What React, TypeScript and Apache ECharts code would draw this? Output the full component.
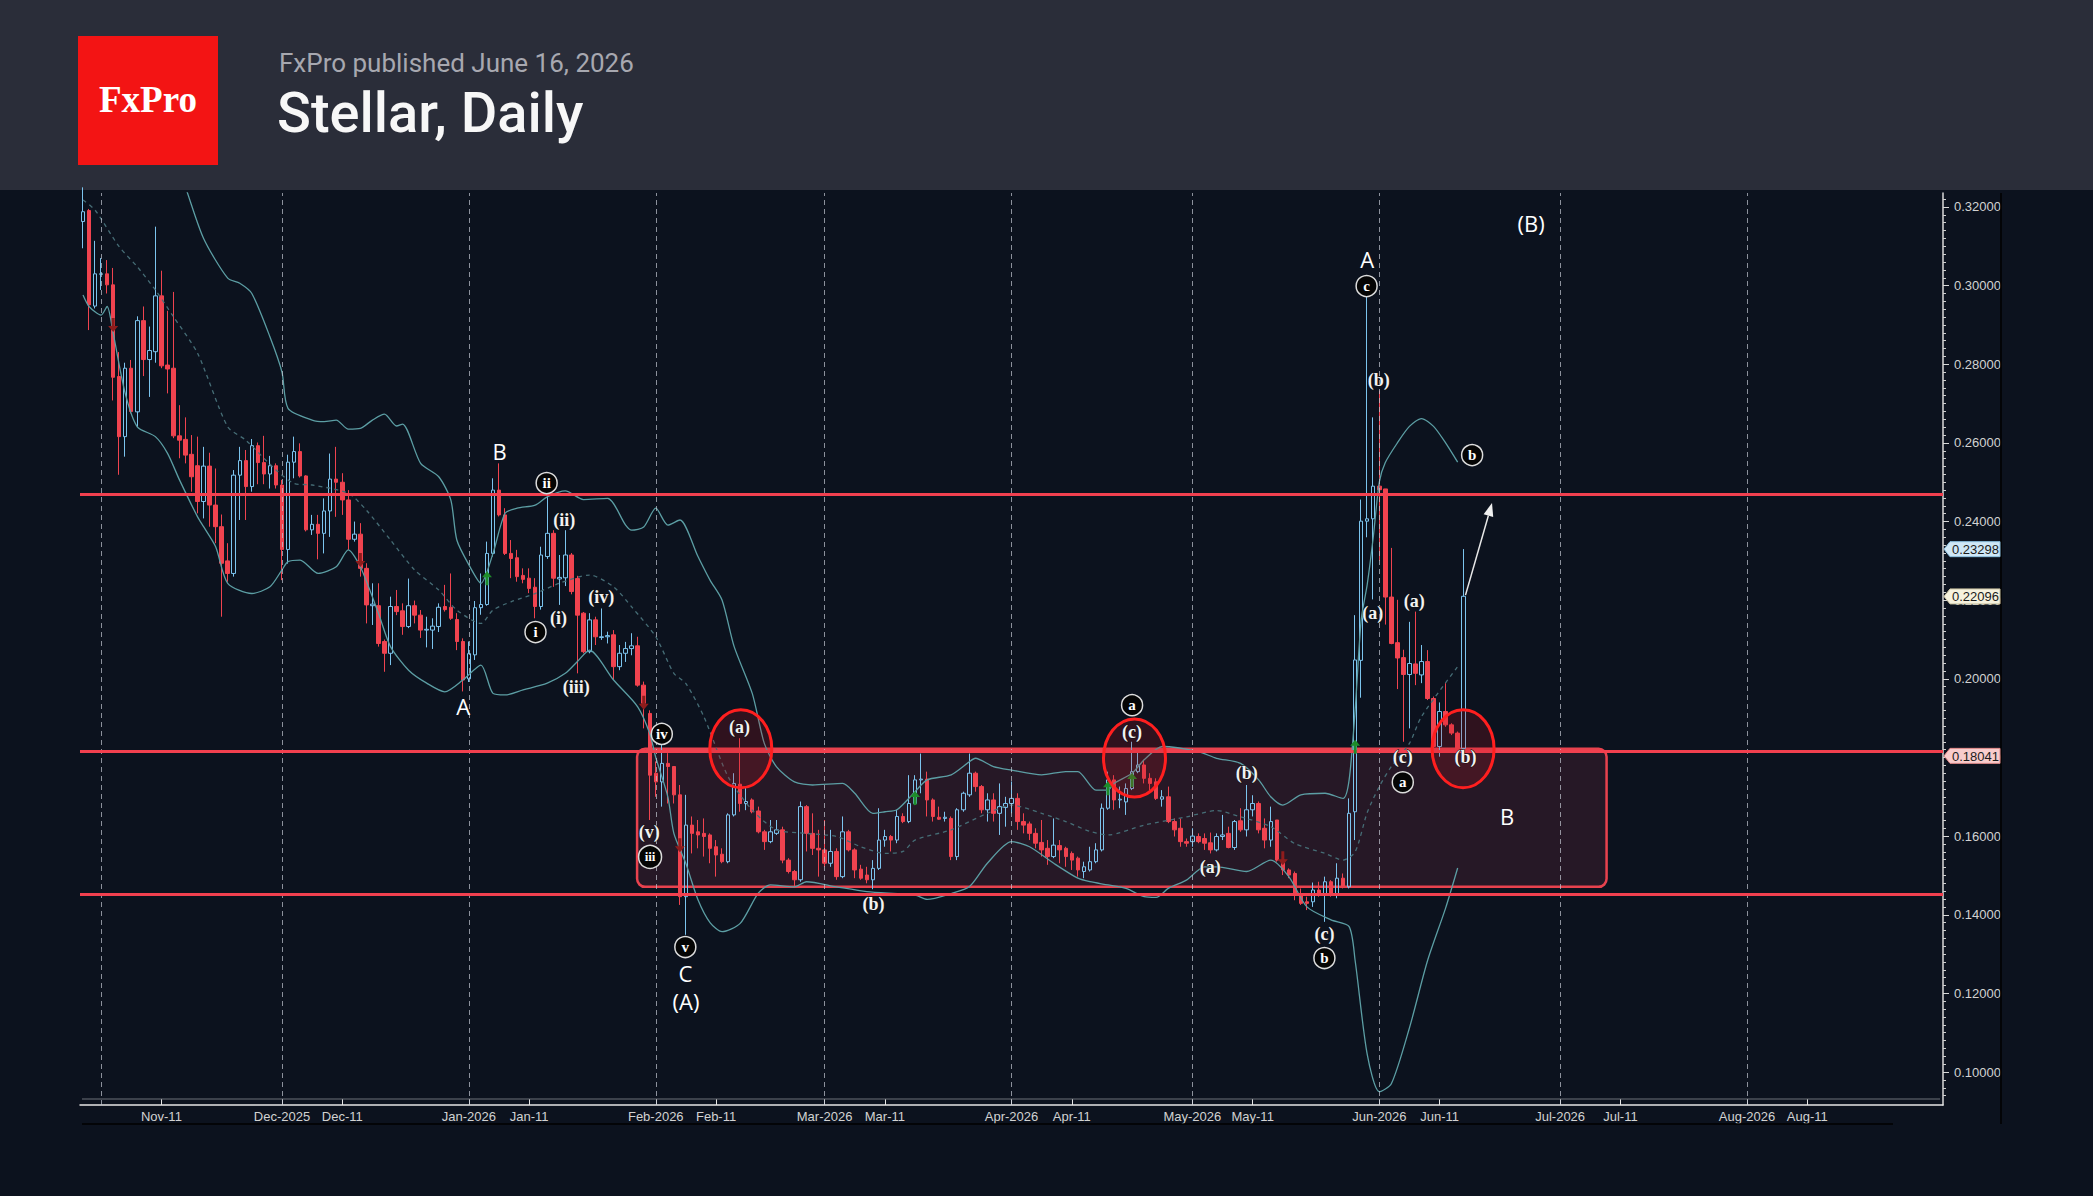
import React, { useEffect, useRef } from "react";
import * as echarts from "echarts";

const WIDTH = 2093;
const HEIGHT = 1196;

// ---------- header texts ----------
const headerSubtitle = "FxPro published June 16, 2026";
const headerTitle = "Stellar, Daily";
const logoLabel = "FxPro";

// ---------- axes ----------
const priceMin = 0.09162;
const priceMax = 0.32356;
const priceTickValues = [0.1, 0.12, 0.14, 0.16, 0.18, 0.2, 0.22, 0.24, 0.26, 0.28, 0.3, 0.32];
const monthAbbr = ["Jan", "Feb", "Mar", "Apr", "May", "Jun", "Jul", "Aug", "Sep", "Oct", "Nov", "Dec"];
const firstDay = "2025-10-29";
const lastDay = "2026-09-02";
const lastLabelDay = "2026-08-31";
const monthLineDates = [
  "2025-11-01", "2025-12-01", "2026-01-01", "2026-02-01", "2026-03-01",
  "2026-04-01", "2026-05-01", "2026-06-01", "2026-07-01", "2026-08-01",
];

// ---------- candles: [day, open, close, low, high] ----------
const oct2025 = [
  [29, 0.3163, 0.3188, 0.3095, 0.325],
  [30, 0.3191, 0.2951, 0.2887, 0.3195],
  [31, 0.2948, 0.303, 0.2942, 0.3114],
];
const nov2025 = [
  [1, 0.3029, 0.303, 0.2989, 0.307],
  [2, 0.303, 0.3002, 0.298, 0.3065],
  [3, 0.3002, 0.2767, 0.2708, 0.3045],
  [4, 0.2769, 0.2616, 0.2519, 0.2831],
  [5, 0.2616, 0.279, 0.2565, 0.2804],
  [6, 0.279, 0.268, 0.2675, 0.2811],
  [7, 0.2679, 0.2911, 0.2641, 0.2922],
  [8, 0.2911, 0.2812, 0.277, 0.2947],
  [9, 0.2812, 0.2835, 0.2717, 0.2896],
  [10, 0.2832, 0.2974, 0.2804, 0.315],
  [11, 0.2974, 0.2796, 0.279, 0.3038],
  [12, 0.2798, 0.2788, 0.2726, 0.2936],
  [13, 0.279, 0.2618, 0.2612, 0.2984],
  [14, 0.2618, 0.2607, 0.2561, 0.2696],
  [15, 0.2609, 0.2569, 0.2548, 0.2665],
  [16, 0.2571, 0.2514, 0.2476, 0.262],
  [17, 0.2542, 0.2451, 0.2421, 0.2616],
  [18, 0.2451, 0.2541, 0.2408, 0.259],
  [19, 0.2541, 0.2442, 0.2387, 0.2575],
  [20, 0.2442, 0.2387, 0.2345, 0.2535],
  [21, 0.2387, 0.2294, 0.2158, 0.2418],
  [22, 0.23, 0.2268, 0.2247, 0.2345],
  [23, 0.2268, 0.2518, 0.226, 0.2531],
  [24, 0.2518, 0.2555, 0.2404, 0.259],
  [25, 0.2555, 0.2489, 0.2404, 0.2582],
  [26, 0.2489, 0.2593, 0.2476, 0.261],
  [27, 0.2593, 0.255, 0.2495, 0.2601],
  [28, 0.255, 0.2521, 0.2495, 0.2618],
  [29, 0.2521, 0.2542, 0.2484, 0.2567],
  [30, 0.2542, 0.2493, 0.2484, 0.2548],
];
const dec2025 = [
  [1, 0.2493, 0.2329, 0.2251, 0.2506],
  [2, 0.2329, 0.2551, 0.2293, 0.257],
  [3, 0.2551, 0.2578, 0.251, 0.2616],
  [4, 0.2578, 0.2516, 0.2512, 0.2599],
  [5, 0.2516, 0.2379, 0.2375, 0.2518],
  [6, 0.2379, 0.2393, 0.2366, 0.2417],
  [7, 0.2393, 0.237, 0.2304, 0.2417],
  [8, 0.237, 0.2427, 0.2319, 0.2459],
  [9, 0.2427, 0.2508, 0.2361, 0.2573],
  [10, 0.2508, 0.25, 0.2412, 0.259],
  [11, 0.25, 0.2455, 0.2417, 0.2523],
  [12, 0.2455, 0.2355, 0.2328, 0.248],
  [13, 0.2355, 0.2368, 0.2349, 0.24],
  [14, 0.2368, 0.2281, 0.226, 0.2396],
  [15, 0.2281, 0.2188, 0.2141, 0.2294],
  [16, 0.2186, 0.219, 0.2137, 0.2243],
  [17, 0.2186, 0.209, 0.2082, 0.2243],
  [18, 0.2095, 0.2065, 0.2018, 0.21],
  [19, 0.2065, 0.2184, 0.2035, 0.2209],
  [20, 0.2184, 0.2171, 0.2162, 0.2226],
  [21, 0.2173, 0.2133, 0.2112, 0.2192],
  [22, 0.2133, 0.2186, 0.2129, 0.2255],
  [23, 0.2186, 0.2162, 0.2141, 0.2199],
  [24, 0.2162, 0.2124, 0.2104, 0.2175],
  [25, 0.2124, 0.2126, 0.208, 0.2158],
  [26, 0.2124, 0.2134, 0.2076, 0.2154],
  [27, 0.2133, 0.2182, 0.2119, 0.2192],
  [28, 0.2184, 0.2176, 0.2171, 0.2239],
  [29, 0.2182, 0.2154, 0.215, 0.2268],
  [30, 0.2151, 0.2095, 0.2073, 0.2167],
  [31, 0.2095, 0.1997, 0.1968, 0.2103],
];
const jan2026 = [
  [1, 0.2, 0.2064, 0.1992, 0.2095],
  [2, 0.2061, 0.2181, 0.2048, 0.2198],
  [3, 0.2181, 0.2189, 0.2163, 0.2268],
  [4, 0.2189, 0.2319, 0.2186, 0.2349],
  [5, 0.2319, 0.248, 0.2311, 0.251],
  [6, 0.248, 0.2417, 0.2413, 0.2548],
  [7, 0.2417, 0.2319, 0.2315, 0.2434],
  [8, 0.2319, 0.2306, 0.2256, 0.2353],
  [9, 0.2308, 0.226, 0.2247, 0.2328],
  [10, 0.2263, 0.2253, 0.2243, 0.2281],
  [11, 0.2256, 0.223, 0.2218, 0.2281],
  [12, 0.2233, 0.2184, 0.2154, 0.2256],
  [13, 0.2184, 0.2315, 0.2176, 0.2336],
  [14, 0.2311, 0.237, 0.2305, 0.2468],
  [15, 0.237, 0.2256, 0.2234, 0.2378],
  [16, 0.2254, 0.2258, 0.2188, 0.2315],
  [17, 0.2257, 0.2315, 0.2236, 0.2378],
  [18, 0.2315, 0.2222, 0.2215, 0.232],
  [19, 0.2255, 0.2162, 0.2014, 0.2262],
  [20, 0.2167, 0.2069, 0.2065, 0.217],
  [21, 0.2069, 0.215, 0.2065, 0.2167],
  [22, 0.215, 0.2107, 0.2086, 0.2158],
  [23, 0.2105, 0.2107, 0.2099, 0.2179],
  [24, 0.2107, 0.211, 0.209, 0.212],
  [25, 0.2112, 0.2031, 0.1997, 0.2124],
  [26, 0.2031, 0.2065, 0.2022, 0.2086],
  [27, 0.2065, 0.2077, 0.2043, 0.2094],
  [28, 0.2077, 0.2084, 0.206, 0.2116],
  [29, 0.2084, 0.1984, 0.198, 0.2107],
  [30, 0.1984, 0.1938, 0.1874, 0.1993],
  [31, 0.1912, 0.1755, 0.1641, 0.192],
];
const feb2026 = [
  [1, 0.176, 0.1738, 0.17, 0.179],
  [2, 0.1738, 0.1785, 0.1675, 0.1832],
  [3, 0.1785, 0.1777, 0.1683, 0.1811],
  [4, 0.1777, 0.1705, 0.1683, 0.1777],
  [5, 0.1705, 0.1446, 0.1425, 0.173],
  [6, 0.1446, 0.1628, 0.1349, 0.1705],
  [7, 0.1628, 0.1607, 0.1556, 0.165],
  [8, 0.1611, 0.1603, 0.1569, 0.1641],
  [9, 0.1607, 0.1599, 0.1548, 0.1645],
  [10, 0.1603, 0.1569, 0.1531, 0.1607],
  [11, 0.1573, 0.1552, 0.1497, 0.159],
  [12, 0.1554, 0.1535, 0.1531, 0.1569],
  [13, 0.1535, 0.1654, 0.1531, 0.1658],
  [14, 0.1654, 0.1734, 0.165, 0.176],
  [15, 0.1732, 0.1683, 0.1662, 0.1849],
  [16, 0.1683, 0.1688, 0.1666, 0.1722],
  [17, 0.1692, 0.1662, 0.1658, 0.1696],
  [18, 0.1664, 0.1611, 0.1607, 0.1675],
  [19, 0.1611, 0.1586, 0.1565, 0.1616],
  [20, 0.1586, 0.1611, 0.1582, 0.1641],
  [21, 0.1607, 0.1616, 0.1603, 0.1641],
  [22, 0.1616, 0.1539, 0.1531, 0.1624],
  [23, 0.1539, 0.151, 0.1505, 0.1544],
  [24, 0.151, 0.1489, 0.1472, 0.1514],
  [25, 0.1489, 0.1675, 0.1484, 0.1688],
  [26, 0.1675, 0.1607, 0.1561, 0.1679],
  [27, 0.1607, 0.1569, 0.1552, 0.1658],
  [28, 0.1569, 0.1565, 0.1497, 0.1616],
];
const mar2026 = [
  [1, 0.1565, 0.1531, 0.1522, 0.1641],
  [2, 0.1531, 0.1561, 0.1522, 0.1616],
  [3, 0.1561, 0.1497, 0.1489, 0.1569],
  [4, 0.1497, 0.1611, 0.1493, 0.165],
  [5, 0.1611, 0.1565, 0.1561, 0.1616],
  [6, 0.1565, 0.1514, 0.1493, 0.1569],
  [7, 0.1516, 0.1493, 0.1489, 0.1527],
  [8, 0.1501, 0.1489, 0.148, 0.1522],
  [9, 0.1489, 0.1518, 0.1465, 0.1539],
  [10, 0.1518, 0.159, 0.1514, 0.1671],
  [11, 0.159, 0.1599, 0.1573, 0.1616],
  [12, 0.1599, 0.159, 0.1561, 0.1603],
  [13, 0.159, 0.165, 0.1582, 0.1667],
  [14, 0.165, 0.1637, 0.1633, 0.1658],
  [15, 0.1637, 0.1683, 0.1633, 0.1755],
  [16, 0.1683, 0.1743, 0.1679, 0.1755],
  [17, 0.1743, 0.1745, 0.1709, 0.181],
  [18, 0.1745, 0.1692, 0.165, 0.1764],
  [19, 0.1692, 0.165, 0.1637, 0.1696],
  [20, 0.1648, 0.1643, 0.1641, 0.1675],
  [21, 0.1645, 0.1648, 0.1637, 0.1662],
  [22, 0.1645, 0.1548, 0.1539, 0.165],
  [23, 0.1548, 0.1667, 0.1539, 0.1671],
  [24, 0.1667, 0.1709, 0.1662, 0.1713],
  [25, 0.1705, 0.176, 0.17, 0.181],
  [26, 0.176, 0.1726, 0.1713, 0.1764],
  [27, 0.1726, 0.1667, 0.1658, 0.173],
  [28, 0.1667, 0.1692, 0.1637, 0.1709],
  [29, 0.1692, 0.1658, 0.1637, 0.1709],
  [30, 0.1658, 0.1675, 0.1603, 0.1734],
  [31, 0.1673, 0.1683, 0.1624, 0.17],
];
const apr2026 = [
  [1, 0.1683, 0.1696, 0.1658, 0.1739],
  [2, 0.1696, 0.1637, 0.1616, 0.1709],
  [3, 0.1637, 0.1628, 0.1607, 0.1658],
  [4, 0.1631, 0.1607, 0.159, 0.1637],
  [5, 0.1607, 0.1582, 0.1569, 0.162],
  [6, 0.1584, 0.1565, 0.1548, 0.1641],
  [7, 0.1569, 0.1548, 0.1527, 0.159],
  [8, 0.1548, 0.1577, 0.1544, 0.1645],
  [9, 0.1576, 0.1565, 0.1531, 0.159],
  [10, 0.1569, 0.1548, 0.1522, 0.1573],
  [11, 0.1556, 0.1539, 0.1514, 0.1561],
  [12, 0.1544, 0.1514, 0.1497, 0.1548],
  [13, 0.151, 0.1522, 0.1493, 0.1535],
  [14, 0.1514, 0.1535, 0.151, 0.1573],
  [15, 0.1535, 0.1565, 0.1531, 0.1582],
  [16, 0.1565, 0.1671, 0.1561, 0.1683],
  [17, 0.1671, 0.1743, 0.1667, 0.1764],
  [18, 0.1743, 0.1692, 0.1667, 0.1755],
  [19, 0.1692, 0.1694, 0.1671, 0.1726],
  [20, 0.1687, 0.1721, 0.1654, 0.1734],
  [21, 0.1721, 0.1764, 0.1717, 0.184],
  [22, 0.1764, 0.1781, 0.176, 0.1815],
  [23, 0.1781, 0.1747, 0.1734, 0.1794],
  [24, 0.1747, 0.1734, 0.1717, 0.176],
  [25, 0.1738, 0.1696, 0.1692, 0.1747],
  [26, 0.1694, 0.17, 0.1675, 0.1717],
  [27, 0.17, 0.1637, 0.1633, 0.1726],
  [28, 0.1637, 0.1616, 0.1599, 0.1645],
  [29, 0.162, 0.1586, 0.1573, 0.1645],
  [30, 0.1586, 0.1582, 0.1573, 0.1594],
];
const may2026 = [
  [1, 0.1586, 0.16, 0.1573, 0.162],
  [2, 0.1599, 0.1586, 0.1582, 0.1607],
  [3, 0.1594, 0.1582, 0.1565, 0.1607],
  [4, 0.1583, 0.1565, 0.1556, 0.1609],
  [5, 0.1565, 0.1599, 0.1561, 0.1607],
  [6, 0.1599, 0.1603, 0.159, 0.1654],
  [7, 0.1607, 0.1571, 0.1569, 0.1624],
  [8, 0.1571, 0.1637, 0.1565, 0.1641],
  [9, 0.1639, 0.1616, 0.1611, 0.1671],
  [10, 0.1616, 0.1667, 0.1599, 0.173],
  [11, 0.1667, 0.1683, 0.165, 0.1704],
  [12, 0.1683, 0.1616, 0.1607, 0.1688],
  [13, 0.162, 0.159, 0.1569, 0.1645],
  [14, 0.159, 0.1637, 0.1573, 0.1675],
  [15, 0.1641, 0.1539, 0.1535, 0.1641],
  [16, 0.1539, 0.1514, 0.1501, 0.1548],
  [17, 0.1514, 0.1501, 0.1493, 0.1518],
  [18, 0.1505, 0.1454, 0.1437, 0.151],
  [19, 0.1454, 0.1429, 0.1425, 0.1467],
  [20, 0.1433, 0.1429, 0.1412, 0.1446],
  [21, 0.1433, 0.1463, 0.142, 0.1482],
  [22, 0.1463, 0.145, 0.1446, 0.1484],
  [23, 0.145, 0.1484, 0.1382, 0.1497],
  [24, 0.1484, 0.1454, 0.1446, 0.1488],
  [25, 0.1454, 0.1493, 0.1442, 0.1531],
  [26, 0.1493, 0.1471, 0.1467, 0.1505],
  [27, 0.1471, 0.1658, 0.1467, 0.1696],
  [28, 0.1662, 0.2048, 0.159, 0.2162],
  [29, 0.2047, 0.2401, 0.1952, 0.2456],
  [30, 0.2401, 0.2407, 0.236, 0.2975],
  [31, 0.2407, 0.249, 0.2202, 0.2665],
];
const jun2026 = [
  [1, 0.249, 0.2481, 0.23, 0.2733],
  [2, 0.2483, 0.2208, 0.2138, 0.2483],
  [3, 0.2208, 0.209, 0.2088, 0.2333],
  [4, 0.2092, 0.2053, 0.1974, 0.2201],
  [5, 0.2054, 0.2011, 0.184, 0.2074],
  [6, 0.2011, 0.2039, 0.1874, 0.2145],
  [7, 0.2038, 0.2014, 0.1984, 0.2171],
  [8, 0.201, 0.2044, 0.1989, 0.2086],
  [9, 0.2044, 0.195, 0.1946, 0.2073],
  [10, 0.195, 0.1828, 0.1823, 0.1955],
  [11, 0.1828, 0.1917, 0.1802, 0.194],
  [12, 0.1917, 0.1883, 0.1878, 0.1989],
  [13, 0.1883, 0.1862, 0.1857, 0.1887],
  [14, 0.1862, 0.1823, 0.1819, 0.1866],
  [15, 0.1823, 0.221, 0.1815, 0.233],
];
const candleMonths: [string, number[][]][] = [
  ["2025-10", oct2025], ["2025-11", nov2025], ["2025-12", dec2025], ["2026-01", jan2026],
  ["2026-02", feb2026], ["2026-03", mar2026], ["2026-04", apr2026], ["2026-05", may2026], ["2026-06", jun2026],
];

// ---------- Bollinger bands: [days after 2025-12-01, value] ----------
const bandAnchor = "2025-12-01";
const upperBand = [
  [-22, 0.35], [-16, 0.325], [-13, 0.312], [-9, 0.3019], [-7, 0.3006], [-5, 0.298], [-2, 0.287], [0, 0.278],
  [1, 0.2688], [5, 0.2658], [7, 0.2654], [9, 0.2658], [11, 0.2635], [13, 0.2637], [15, 0.2658], [17, 0.2673],
  [19, 0.2643], [20, 0.2648], [23, 0.2548], [26, 0.2514], [28, 0.2455], [29, 0.2353], [31, 0.229], [33, 0.2243],
  [35, 0.2319], [37, 0.2421], [39, 0.2434], [42, 0.2442], [44, 0.2463], [47, 0.2478], [50, 0.2456], [54, 0.2459],
  [57, 0.2391], [58, 0.2378], [60, 0.2386], [62, 0.2434], [64, 0.2391], [66, 0.2404], [69, 0.2311], [71, 0.2251],
  [73, 0.22], [75, 0.2082], [78, 0.1963], [80, 0.1836], [82, 0.1777], [85, 0.1738], [88, 0.173], [93, 0.1734],
  [95, 0.1709], [98, 0.1658], [100, 0.1662], [102, 0.1667], [105, 0.1713], [107, 0.1743], [111, 0.1756],
  [114, 0.1789], [115, 0.1798], [118, 0.1777], [121, 0.1768], [126, 0.1756], [130, 0.1764], [132, 0.1764],
  [135, 0.1717], [137, 0.1717], [138, 0.1734], [141, 0.176], [143, 0.1794], [146, 0.1828], [152, 0.1815],
  [155, 0.1798], [159, 0.1785], [162, 0.1743], [164, 0.17], [166, 0.1679], [169, 0.1705], [173, 0.1709],
  [176, 0.1696], [177, 0.1743], [178, 0.1921], [179, 0.215], [180, 0.224], [181, 0.236], [182, 0.25],
  [183, 0.255], [185, 0.26], [187, 0.2642], [189, 0.2662], [191, 0.2642], [193, 0.26], [195, 0.2551],
];
const middleBand = [
  [-33, 0.3218], [-31, 0.3192], [-27, 0.3099], [-24, 0.3048], [-21, 0.2989], [-18, 0.2921], [-14, 0.2828],
  [-9, 0.2641], [-6, 0.2607], [-1, 0.2531], [2, 0.2497], [5, 0.2493], [11, 0.2472], [14, 0.2429], [18, 0.2353],
  [22, 0.2277], [26, 0.2226], [29, 0.2175], [33, 0.2141], [35, 0.2175], [38, 0.2196], [42, 0.2217], [46, 0.2243],
  [51, 0.2264], [55, 0.2234], [58, 0.2183], [62, 0.2107], [65, 0.2014], [67, 0.1988], [70, 0.1903], [74, 0.1751],
  [78, 0.1666], [82, 0.1616], [87, 0.1607], [92, 0.1599], [96, 0.1573], [100, 0.1556], [103, 0.1561],
  [105, 0.159], [111, 0.1616], [117, 0.1658], [121, 0.1679], [126, 0.1658], [130, 0.1637], [134, 0.1612],
  [137, 0.1603], [143, 0.1628], [150, 0.1649], [155, 0.1665], [159, 0.1649], [164, 0.1624], [168, 0.1581],
  [173, 0.1556], [176, 0.1539], [178, 0.156], [180, 0.166], [182, 0.1726], [184, 0.1777], [187, 0.1836],
  [189, 0.1904], [195, 0.2031],
];
const lowerBand = [
  [-33, 0.2976], [-32, 0.2947], [-30, 0.2925], [-29, 0.2947], [-28, 0.2879], [-26, 0.2726], [-24, 0.2641],
  [-21, 0.2616], [-19, 0.2574], [-17, 0.2506], [-14, 0.2412], [-13, 0.2387], [-11, 0.2336], [-9, 0.2243],
  [-5, 0.2217], [-2, 0.2234], [0, 0.2277], [1, 0.2298], [3, 0.2302], [6, 0.2268], [9, 0.2285], [11, 0.2328],
  [13, 0.2285], [16, 0.2167], [18, 0.2082], [21, 0.2022], [24, 0.1989], [27, 0.1967], [30, 0.1997], [33, 0.2035],
  [35, 0.1963], [37, 0.1959], [40, 0.1972], [44, 0.1989], [47, 0.2014], [49, 0.2044], [51, 0.2073], [55, 0.1997],
  [59, 0.1929], [61, 0.1861], [62, 0.18], [64, 0.17], [65, 0.1607], [67, 0.153], [69, 0.1438], [71, 0.138],
  [73, 0.1357], [76, 0.1378], [79, 0.1455], [81, 0.1476], [85, 0.1471], [87, 0.1484], [92, 0.1471], [97, 0.1459],
  [105, 0.145], [107, 0.1439], [111, 0.1454], [114, 0.1471], [117, 0.1531], [121, 0.1586], [124, 0.1573],
  [128, 0.1531], [132, 0.1493], [134, 0.1484], [137, 0.1476], [140, 0.1467], [143, 0.1446], [145, 0.1444],
  [147, 0.1467], [150, 0.1488], [153, 0.1522], [155, 0.1522], [160, 0.151], [164, 0.1539], [167, 0.1497],
  [170, 0.142], [174, 0.1387], [177, 0.137], [178, 0.1283], [180, 0.1045], [182, 0.095], [184, 0.097],
  [187, 0.1112], [190, 0.1283], [193, 0.1417], [195, 0.1519],
];

// ---------- drawn levels & annotations (x in days after 2025-12-01) ----------
const levelPrices = [0.247, 0.18147, 0.1453];
const rangeBox = { fromDay: 58.9, toDay: 219.7, low: 0.1471, high: 0.1822 };
const waveLetters: [string, number, number][] = [
  ["A", 30.06, 0.1931], ["B", 36.1, 0.2579], ["C", 66.9, 0.1252], ["(A)", 67.0, 0.1181],
  ["A", 180.0, 0.3067], ["(B)", 207.2, 0.316], ["B", 203.2, 0.1651],
];
const parenLabels: [string, number, number][] = [
  ["(ii)", 46.8, 0.2404], ["(i)", 45.85, 0.2155], ["(iii)", 48.8, 0.1979], ["(iv)", 52.96, 0.2208],
  ["(a)", 75.9, 0.1878], ["(v)", 60.9, 0.161], ["(b)", 98.1, 0.1427], ["(c)", 141.0, 0.1866],
  ["(b)", 160.0, 0.176], ["(a)", 153.95, 0.1521], ["(c)", 172.9, 0.1351], ["(a)", 180.9, 0.2167],
  ["(a)", 187.8, 0.2198], ["(c)", 185.9, 0.1801], ["(b)", 196.3, 0.1801], ["(b)", 181.9, 0.276],
];
const circledLabels: [string, number, number][] = [
  ["ii", 43.9, 0.2498], ["i", 42.05, 0.2119], ["iv", 63.0, 0.186], ["iii", 61.05, 0.1547], ["v", 66.9, 0.1318],
  ["a", 141.0, 0.1933], ["b", 172.9, 0.129], ["a", 185.9, 0.1737], ["c", 179.9, 0.2999], ["b", 197.4, 0.2569],
];
const redCircles: [number, number][] = [[76.1, 0.1822], [141.4, 0.1799], [195.9, 0.1822]];
const projectionArrow: [number, number][] = [[196.3, 0.2213], [200.7, 0.2447]];
const upSignals: [number, number][] = [[34, 0.2256], [105, 0.1697], [137, 0.1722], [141, 0.1743], [178, 0.1827]];
const downSignals: [number, number][] = [[-28, 0.29], [13, 0.2302], [60, 0.1939], [66, 0.1577], [166, 0.1544]];
const priceTags: [string, number, string, string][] = [
  ["0.23298", 0.23298, "#cfe7f6", "#8cc0e0"],
  ["0.22096", 0.22096, "#f6f2de", "#c9c1a0"],
  ["0.18041", 0.18041, "#f8cccc", "#e28a8a"],
];

// ---------- helpers ----------
function buildCategories(): string[] {
  const out: string[] = [];
  const [y0, m0, d0] = firstDay.split("-").map(Number);
  const [y1, m1, d1] = lastDay.split("-").map(Number);
  const end = Date.UTC(y1, m1 - 1, d1);
  for (let t = Date.UTC(y0, m0 - 1, d0); t <= end; t += 86400000) {
    out.push(new Date(t).toISOString().slice(0, 10));
  }
  return out;
}

const BG = "#0c121e";
const SERIF = "'Liberation Serif', 'DejaVu Serif', serif";
const AXISFONT = "'Liberation Sans', Arial, sans-serif";

export default function App() {
  const ref = useRef<HTMLDivElement>(null);

  useEffect(() => {
    document.body.style.margin = "0";
    const el = ref.current;
    if (!el) return;
    const chart = echarts.init(el, null, { renderer: "svg", width: WIDTH, height: HEIGHT });

    const cats = buildCategories();
    const anchor = cats.indexOf(bandAnchor);
    const catIndex: Record<string, number> = {};
    cats.forEach((c, i) => (catIndex[c] = i));

    const candleData: any[] = [];
    candleMonths.forEach(([ym, rows]) => {
      rows.forEach(([day, o, c, l, h]) => {
        const key = `${ym}-${String(day).padStart(2, "0")}`;
        candleData[catIndex[key]] = [o, c, l, h];
      });
    });
    for (let i = 0; i < candleData.length; i++) if (!candleData[i]) candleData[i] = "-";

    const bandSeries = (pts: number[][]) => {
      const arr: any[] = new Array(cats.length).fill(null);
      pts.forEach(([d, v]) => {
        const i = d + anchor;
        if (i >= 0 && i < cats.length) arr[i] = v;
      });
      return arr;
    };

    const labelShown = cats.map((c, i) => {
      const day = Number(c.slice(8, 10));
      return (day === 1 || day === 11) && i > 6 && c <= lastLabelDay;
    });
    const labelText = (c: string) => {
      const y = c.slice(0, 4);
      const m = monthAbbr[Number(c.slice(5, 7)) - 1];
      const day = Number(c.slice(8, 10));
      return day === 1 ? `${m}-${y}` : `${m}-${String(day)}`;
    };

    const minorTicks: number[] = [];
    for (let k = 47; k <= 161; k++) {
      const v = Math.round(k * 0.002 * 100000) / 100000;
      if (!priceTickValues.some((t) => Math.abs(t - v) < 1e-6)) minorTicks.push(v);
    }

    const option: any = {
      animation: false,
      backgroundColor: BG,
      grid: { left: 80, right: 150, top: 193, bottom: 91, containLabel: false },
      xAxis: {
        type: "category",
        data: cats,
        boundaryGap: true,
        axisLine: { show: true, lineStyle: { color: "#e6e6e6", width: 1.5 } },
        axisTick: {
          show: true,
          inside: true,
          alignWithLabel: true,
          length: 6,
          interval: (i: number) => labelShown[i],
          lineStyle: { color: "#e6e6e6" },
        },
        axisLabel: {
          interval: (i: number) => labelShown[i],
          formatter: (v: string) => labelText(v),
          color: "#d2d2d2",
          fontFamily: AXISFONT,
          fontSize: 13,
          margin: 5,
        },
        splitLine: { show: false },
      },
      yAxis: [
        {
          type: "value",
          position: "right",
          min: priceMin,
          max: priceMax,
          axisLine: { show: true, lineStyle: { color: "#d8d8d8", width: 1.5 } },
          axisTick: { show: true, customValues: priceTickValues, length: 6, lineStyle: { color: "#d8d8d8" } },
          axisLabel: {
            customValues: priceTickValues,
            formatter: (v: number) => v.toFixed(5),
            color: "#d2d2d2",
            fontFamily: AXISFONT,
            fontSize: 13,
            margin: 11,
          },
          splitLine: { show: false },
        },
        {
          type: "value",
          position: "right",
          min: priceMin,
          max: priceMax,
          axisLine: { show: false },
          axisTick: { show: true, customValues: minorTicks, length: 3, lineStyle: { color: "#cfcfcf" } },
          axisLabel: { show: false },
          splitLine: { show: false },
        },
      ],
      series: [
        {
          type: "line",
          name: "months",
          data: [],
          z: 1,
          silent: true,
          markLine: {
            silent: true,
            symbol: ["none", "none"],
            label: { show: false },
            lineStyle: { type: [5, 4], color: "rgba(195,200,210,0.7)", width: 1 },
            data: monthLineDates.map((d) => ({ xAxis: d })),
          },
        },
        {
          type: "candlestick",
          name: "XLM",
          data: candleData,
          z: 3,
          barWidth: 4,
          itemStyle: {
            color: "rgba(0,0,0,0)",
            color0: "#f0434f",
            borderColor: "#7cc4ee",
            borderColor0: "#f0434f",
            borderWidth: 1,
          },
        },
        {
          type: "line",
          name: "upper",
          data: bandSeries(upperBand),
          connectNulls: true,
          showSymbol: false,
          smooth: 0.25,
          z: 4,
          silent: true,
          lineStyle: { color: "#5c9ea4", width: 1.3 },
        },
        {
          type: "line",
          name: "middle",
          data: bandSeries(middleBand),
          connectNulls: true,
          showSymbol: false,
          smooth: 0.25,
          z: 4,
          silent: true,
          lineStyle: { color: "#466d76", width: 1.3, type: [4, 4] },
        },
        {
          type: "line",
          name: "lower",
          data: bandSeries(lowerBand),
          connectNulls: true,
          showSymbol: false,
          smooth: 0.25,
          z: 4,
          silent: true,
          lineStyle: { color: "#5c9ea4", width: 1.3 },
        },
        {
          type: "line",
          name: "levels",
          data: [],
          z: 6,
          silent: true,
          markLine: {
            silent: true,
            precision: 6,
            symbol: ["none", "none"],
            label: { show: false },
            lineStyle: { type: "solid", color: "#f2404f", width: 3 },
            data: levelPrices.map((p) => ({ yAxis: p })),
          },
        },
      ],
    };

    chart.setOption(option);

    const xa = chart.convertToPixel({ xAxisIndex: 0 }, cats[0]) as number;
    const xb = chart.convertToPixel({ xAxisIndex: 0 }, cats[cats.length - 1]) as number;
    const band = (xb - xa) / (cats.length - 1);
    const px = (d: number) => xa + (d + anchor) * band;
    const py = (p: number) => chart.convertToPixel({ yAxisIndex: 0 }, p) as number;

    const txt = (text: string, x: number, y: number, s: any, z = 20) => ({
      type: "text",
      x,
      y,
      z,
      silent: true,
      style: {
        text,
        fill: s.fill || "#ffffff",
        fontSize: s.fontSize || 16,
        fontFamily: s.fontFamily || "Open Sans",
        fontWeight: s.fontWeight || "normal",
        align: s.align || "center",
        verticalAlign: "middle",
        textAlign: s.align || "center",
        textVerticalAlign: "middle",
        stroke: s.stroke,
        lineWidth: s.lineWidth,
      },
    });

    const els: any[] = [];
    // header
    els.push({ type: "rect", z: 0, silent: true, shape: { x: 0, y: 0, width: WIDTH, height: 190 }, style: { fill: "#2a2d39" } });
    els.push({ type: "rect", z: 1, silent: true, shape: { x: 78, y: 36, width: 140, height: 129 }, style: { fill: "#f31414" } });
    els.push(txt(logoLabel, 148, 99, { fontSize: 37, fontFamily: SERIF, fontWeight: "bold" }, 2));
    els.push(txt(headerSubtitle, 279, 63, { fontSize: 26, fontFamily: "Roboto", fill: "#a7a8b0", align: "left" }, 2));
    els.push(txt(headerTitle, 277, 113, { fontSize: 56, fontFamily: "Roboto", fontWeight: 500, fill: "#f7f7f7", align: "left" }, 2));

    // frame lines
    els.push({ type: "line", z: 2, silent: true, shape: { x1: 82, y1: 1099, x2: 1940, y2: 1099 }, style: { stroke: "#6c7079", lineWidth: 1 } });
    els.push({ type: "line", z: 2, silent: true, shape: { x1: 2001, y1: 193, x2: 2001, y2: 1124 }, style: { stroke: "#000000", lineWidth: 1.5 } });
    els.push({ type: "line", z: 2, silent: true, shape: { x1: 82, y1: 1124, x2: 1893, y2: 1124 }, style: { stroke: "#000000", lineWidth: 1.5 } });

    // range box
    const bx0 = px(rangeBox.fromDay);
    const bx1 = px(rangeBox.toDay);
    const by0 = py(rangeBox.high);
    const by1 = py(rangeBox.low);
    els.push({
      type: "rect",
      z: 1,
      silent: true,
      shape: { x: bx0, y: by0, width: bx1 - bx0, height: by1 - by0, r: 8 },
      style: { fill: "rgba(100,40,60,0.3)", stroke: "#e8424e", lineWidth: 2.5 },
    });

    // red circles
    redCircles.forEach(([d, p]) => {
      els.push({
        type: "ellipse",
        z: 15,
        silent: true,
        shape: { cx: px(d), cy: py(p), rx: 31, ry: 39 },
        style: { fill: "rgba(190,20,30,0.2)", stroke: "#ff1f1f", lineWidth: 3 },
      });
    });

    // signal arrows
    upSignals.forEach(([d, p]) => {
      const x = px(d), y = py(p);
      els.push({
        type: "polygon", z: 12, silent: true,
        shape: { points: [[x, y - 7], [x + 5, y - 1], [x + 1.5, y - 1], [x + 1.5, y + 7], [x - 1.5, y + 7], [x - 1.5, y - 1], [x - 5, y - 1]] },
        style: { fill: "#1e8c2a" },
      });
    });
    downSignals.forEach(([d, p]) => {
      const x = px(d), y = py(p);
      els.push({
        type: "polygon", z: 12, silent: true,
        shape: { points: [[x, y + 7], [x + 5, y + 1], [x + 1.5, y + 1], [x + 1.5, y - 7], [x - 1.5, y - 7], [x - 1.5, y + 1], [x - 5, y + 1]] },
        style: { fill: "#8e1c1c" },
      });
    });

    // projection arrow
    const [a0, a1] = projectionArrow;
    const ax0 = px(a0[0]), ay0 = py(a0[1]), ax1 = px(a1[0]), ay1 = py(a1[1]);
    const ang = Math.atan2(ay1 - ay0, ax1 - ax0);
    const hl = 13, hw = 5;
    const bxh = ax1 - hl * Math.cos(ang), byh = ay1 - hl * Math.sin(ang);
    els.push({ type: "line", z: 16, silent: true, shape: { x1: ax0, y1: ay0, x2: bxh, y2: byh }, style: { stroke: "#e8e8e8", lineWidth: 1.5 } });
    els.push({
      type: "polygon", z: 16, silent: true,
      shape: {
        points: [
          [ax1, ay1],
          [bxh + hw * Math.sin(ang), byh - hw * Math.cos(ang)],
          [bxh - hw * Math.sin(ang), byh + hw * Math.cos(ang)],
        ],
      },
      style: { fill: "#f0f0f0" },
    });

    waveLetters.forEach(([t, d, p]) => els.push(txt(t, px(d), py(p), { fontSize: 22, fontFamily: "'Open Sans', 'DejaVu Sans', sans-serif" })));
    parenLabels.forEach(([t, d, p]) =>
      els.push(txt(t, px(d), py(p), { fontSize: 18, fontFamily: SERIF, fontWeight: "bold", fill: "#f2f2f2", stroke: "#111", lineWidth: 1 }))
    );
    circledLabels.forEach(([t, d, p]) => {
      const x = px(d), y = py(p);
      const r = t.length > 2 ? 11.5 : 10.5;
      els.push({ type: "circle", z: 20, silent: true, shape: { cx: x, cy: y, r }, style: { fill: "#050505", stroke: "#dcdcdc", lineWidth: 1.5 } });
      els.push(txt(t, x, y, { fontSize: t.length > 2 ? 13 : 15, fontFamily: SERIF, fontWeight: "bold" }, 21));
    });

    // price tags on the axis
    const tx0 = 1944;
    const tx1 = 2000;
    priceTags.forEach(([t, v, fill, stroke]) => {
      const y = py(v);
      els.push({
        type: "polygon", z: 22, silent: true,
        shape: { points: [[tx0, y], [tx0 + 6, y - 7.5], [tx1, y - 7.5], [tx1, y + 7.5], [tx0 + 6, y + 7.5]] },
        style: { fill, stroke, lineWidth: 1 },
      });
      els.push(txt(t, tx0 + 8, y + 0.5, { fontSize: 13, fontFamily: AXISFONT, fill: "#1b1b1b", align: "left" }, 23));
    });

    chart.setOption({ graphic: { elements: els } });

    return () => chart.dispose();
  }, []);

  return <div ref={ref} style={{ position: "absolute", left: 0, top: 0, width: WIDTH, height: HEIGHT }} />;
}
